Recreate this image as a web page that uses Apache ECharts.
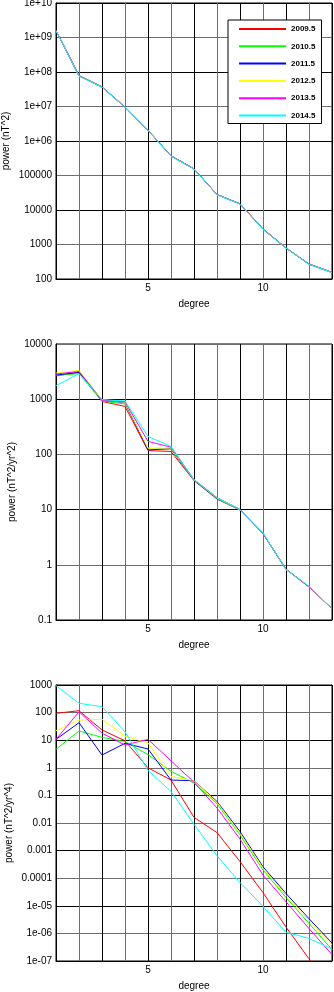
<!DOCTYPE html>
<html>
<head>
<meta charset="utf-8">
<script src="https://cdn.jsdelivr.net/npm/echarts@6/dist/echarts.min.js"></script>
<style>
  html, body { margin: 0; padding: 0; background: #fff; }
  #chart { width: 334px; height: 992px; }
</style>
</head>
<body>
<div id="chart"></div>
<script>
// degree (x) for every panel
var degrees = [1, 2, 3, 4, 5, 6, 7, 8, 9, 10, 11, 12, 13];
var years = ['2009.5', '2010.5', '2011.5', '2012.5', '2013.5', '2014.5'];
var colors = ['#ff0000', '#00ff00', '#0000ff', '#ffff00', '#ff00ff', '#00ffff'];

// panel 1: power (nT^2)
var field2009 = [1.60e9, 7.9e7, 3.70e7, 9.7e6, 2.05e6, 3.75e5, 1.56e5, 2.80e4, 1.52e4, 2.85e3, 800, 272, 156];
var field2010 = [1.59e9, 7.8e7, 3.68e7, 9.7e6, 2.04e6, 3.70e5, 1.55e5, 2.80e4, 1.50e4, 2.80e3, 795, 270, 155];
var field2011 = [1.59e9, 7.8e7, 3.67e7, 9.6e6, 2.03e6, 3.70e5, 1.55e5, 2.80e4, 1.50e4, 2.80e3, 790, 270, 155];
var field2012 = [1.58e9, 7.7e7, 3.66e7, 9.6e6, 2.03e6, 3.68e5, 1.54e5, 2.79e4, 1.49e4, 2.78e3, 790, 268, 154];
var field2013 = [1.58e9, 7.7e7, 3.65e7, 9.6e6, 2.02e6, 3.66e5, 1.54e5, 2.78e4, 1.49e4, 2.76e3, 785, 268, 154];
var field2014 = [1.57e9, 7.6e7, 3.64e7, 9.5e6, 2.02e6, 3.65e5, 1.53e5, 2.78e4, 1.48e4, 2.75e3, 785, 266, 153];

// panel 2: power (nT^2/yr^2)
var sv2009 = [2650, 3070, 910, 740, 117, 113, 33.5, 15.5, 9.8, 3.7, 0.83, 0.40, 0.16];
var sv2010 = [2700, 2900, 930, 820, 125, 124, 34, 15.8, 9.9, 3.7, 0.83, 0.40, 0.16];
var sv2011 = [2740, 3070, 960, 870, 120, 128, 34, 16, 10, 3.7, 0.83, 0.40, 0.16];
var sv2012 = [2960, 3320, 980, 880, 130, 130, 34.5, 16.2, 9.9, 3.7, 0.82, 0.40, 0.16];
var sv2013 = [2860, 3180, 960, 900, 172, 135, 35, 16.5, 10, 3.7, 0.82, 0.40, 0.16];
var sv2014 = [1760, 2900, 980, 930, 211, 140, 35, 16.5, 10, 3.8, 0.82, 0.41, 0.16];

// panel 3: power (nT^2/yr^4)
var sa2009 = [94, 117, 23.5, 9.5, 1.0, 0.36, 0.016, 0.0045, 4e-4, 3e-5, 1.7e-6, 1.2e-7, 1e-8];
var sa2010 = [4.7, 21.5, 12.7, 8.9, 3.0, 0.75, 0.28, 0.05, 0.0037, 2.0e-4, 2.0e-5, 2.3e-6, 2.6e-7];
var sa2011 = [10.7, 43, 2.9, 7.7, 4.8, 0.36, 0.34, 0.06, 0.0049, 2.6e-4, 2.8e-5, 3.4e-6, 4.5e-7];
var sa2012 = [22, 54, 57, 14, 8, 0.48, 0.34, 0.055, 0.0042, 2.3e-4, 2.4e-5, 3.0e-6, 3.8e-7];
var sa2013 = [10.7, 107, 18, 6.7, 10.7, 1.8, 0.3, 0.035, 0.0026, 1.3e-4, 1.4e-5, 1.5e-6, 1.7e-7];
var sa2014 = [950, 217, 164, 20, 0.8, 0.14, 0.009, 6.5e-4, 7e-5, 9.5e-6, 1.1e-6, 6.6e-7, 2.7e-7];

var panels = [
  { name: 'power (nT^2)', min: 1e2, max: 1e10, split: 8, gap: 45, top: 3,
    data: [field2009, field2010, field2011, field2012, field2013, field2014] },
  { name: 'power (nT^2/yr^2)', min: 0.1, max: 1e4, split: 5, gap: 39, top: 344,
    data: [sv2009, sv2010, sv2011, sv2012, sv2013, sv2014] },
  { name: 'power (nT^2/yr^4)', min: 1e-7, max: 1e3, split: 10, gap: 42, top: 685,
    data: [sa2009, sa2010, sa2011, sa2012, sa2013, sa2014] }
];

var font = 'Liberation Sans, Arial, Helvetica, sans-serif';
var gridColors = ['#000', '#6e6e6e'];

function logLabel(v) {
  var e = Math.round(Math.log10(v));
  if (e >= 6) return '1e+' + (e < 10 ? '0' + e : e);
  if (e <= -5) return '1e-' + (-e < 10 ? '0' + (-e) : -e);
  if (e >= 0) return String(Math.pow(10, e));
  return (Math.pow(10, e)).toFixed(-e);
}

var myChart = echarts.init(document.getElementById('chart'));

var grids = [], xAxes = [], yAxes = [], series = [];
panels.forEach(function (p, k) {
  grids.push({
    left: 56, top: p.top, width: 276, height: 276,
    containLabel: false, outerBoundsMode: 'none',
    show: true, borderColor: '#000', borderWidth: 1, backgroundColor: 'transparent'
  });
  xAxes.push({
    gridIndex: k, type: 'value', min: 1, max: 13, interval: 1,
    name: 'degree', nameLocation: 'middle', nameGap: 20, nameMoveOverlap: false,
    nameTextStyle: { fontFamily: font, fontSize: 10, color: '#000' },
    axisLine: { show: true, lineStyle: { color: '#000', width: 1 } },
    axisTick: { show: false },
    axisLabel: {
      margin: 4, fontFamily: font, fontSize: 10, color: '#000',
      formatter: function (v) { return (v === 5 || v === 10) ? String(v) : ''; }
    },
    splitLine: { show: true, lineStyle: { color: gridColors, width: 1 } }
  });
  yAxes.push({
    gridIndex: k, type: 'log', logBase: 10, min: p.min, max: p.max,
    splitNumber: p.split, interval: 1,
    name: p.name, nameLocation: 'middle', nameGap: p.gap, nameRotate: 90,
    nameMoveOverlap: false,
    nameTextStyle: { fontFamily: font, fontSize: 10, color: '#000' },
    axisLine: { show: true, lineStyle: { color: '#000', width: 1 } },
    axisTick: { show: false },
    axisLabel: { margin: 4, fontFamily: font, fontSize: 10, color: '#000', formatter: logLabel },
    splitLine: { show: true, lineStyle: { color: gridColors, width: 1 } }
  });
  p.data.forEach(function (arr, i) {
    series.push({
      name: years[i],
      type: 'line',
      xAxisIndex: k,
      yAxisIndex: k,
      symbol: 'none',
      color: colors[i],
      lineStyle: { width: 1, color: colors[i] },
      data: degrees.map(function (d, j) { return [d, arr[j]]; })
    });
  });
});

var option = {
  animation: false,
  backgroundColor: '#fff',
  legend: {
    data: years,
    orient: 'vertical',
    left: 228,
    top: 20,
    padding: [4, 6, 3, 11],
    itemWidth: 47,
    itemHeight: 10,
    itemGap: 7.3,
    icon: 'path://M0,0H47V2H0Z',
    selectedMode: false,
    backgroundColor: '#fff',
    borderColor: '#000',
    borderWidth: 1,
    textStyle: { fontFamily: font, fontSize: 8, fontWeight: 'bold', color: '#000', lineHeight: 10 }
  },
  grid: grids,
  xAxis: xAxes,
  yAxis: yAxes,
  series: series
};

myChart.setOption(option);
</script>
</body>
</html>
